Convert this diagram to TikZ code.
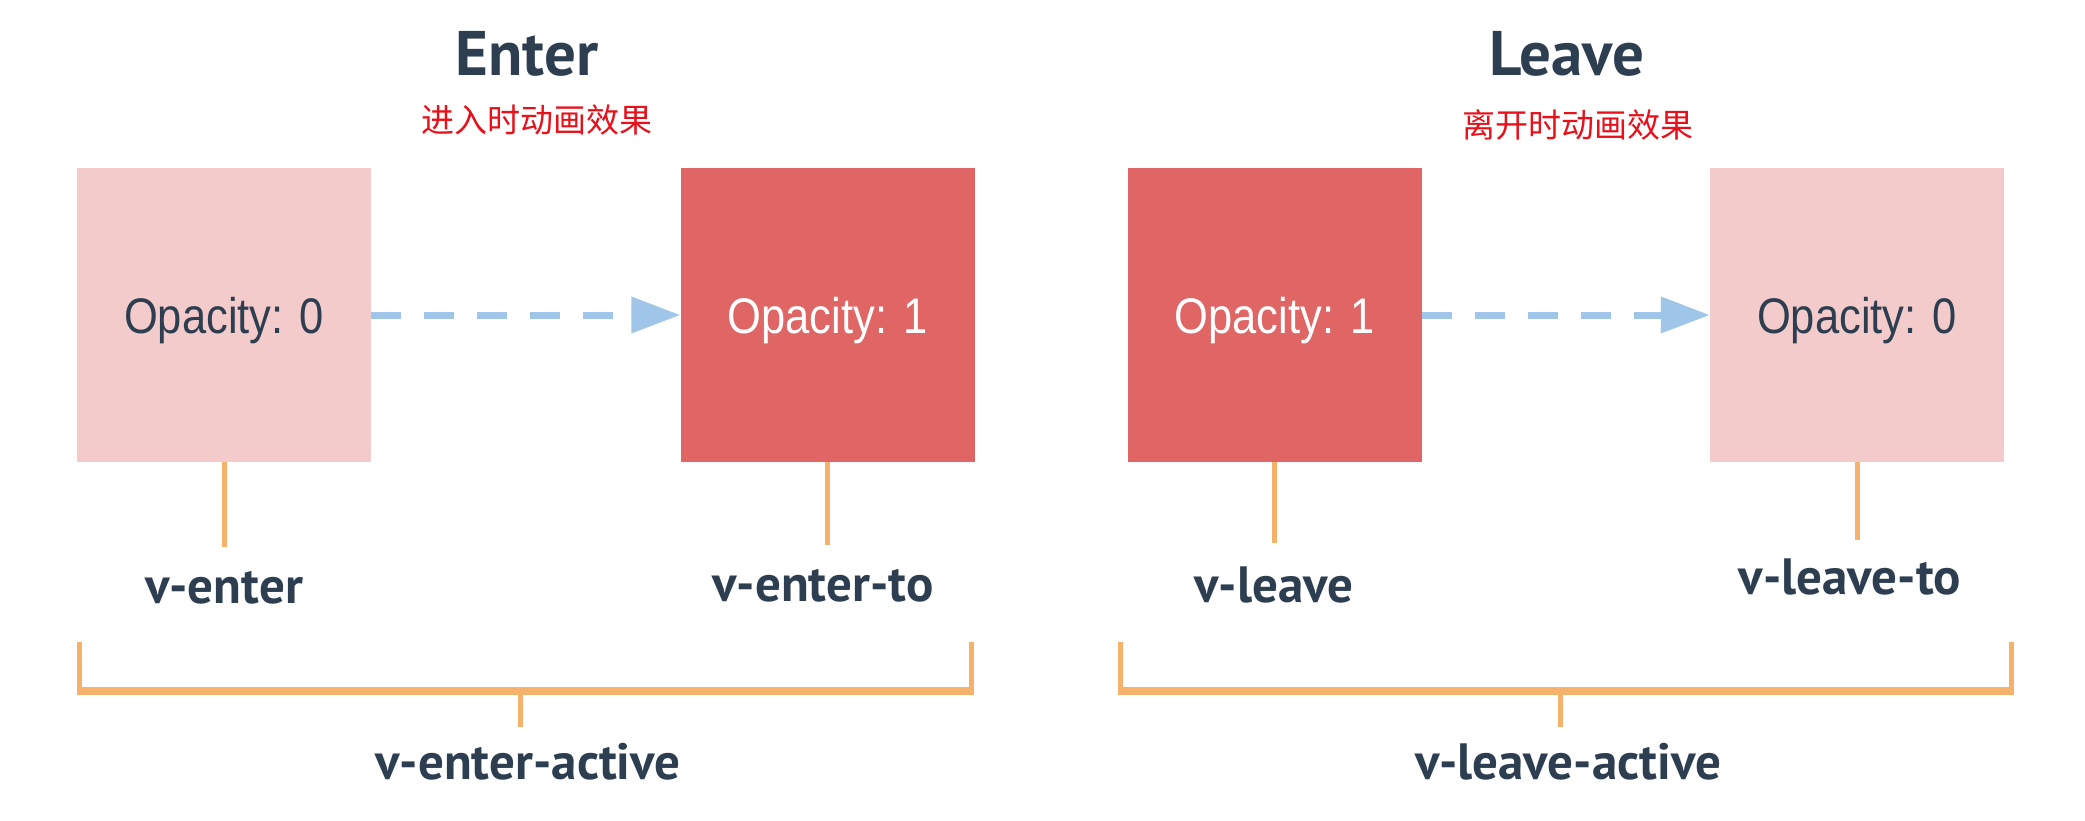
\documentclass[tikz,border=0pt]{standalone}
\usepackage{fontspec}
\setmainfont{Liberation Sans}
\newfontfamily\labfont{PT Sans}
\newfontfamily\opfont{Liberation Sans}[FakeStretch=0.87]
\newfontfamily\cjk{Noto Sans CJK SC}
\usetikzlibrary{arrows.meta}
\definecolor{lightbox}{RGB}{243,203,203}
\definecolor{redbox}{RGB}{224,102,102}
\definecolor{brk}{RGB}{246,178,107}
\definecolor{arrowblue}{RGB}{159,197,232}
\definecolor{darktext}{RGB}{44,62,80}
\definecolor{cjkred}{RGB}{232,16,26}
\begin{document}
\begin{tikzpicture}[x=1pt,y=-1pt,
  boxbase/.style={rectangle,minimum width=294pt,minimum height=294pt,inner sep=0pt,
    text depth=0pt,font=\opfont\fontsize{50}{52}\selectfont},
  lightstate/.style={boxbase,fill=lightbox,text=darktext},
  darkstate/.style={boxbase,fill=redbox,text=white},
  title/.style={anchor=base,font=\labfont\bfseries\fontsize{63}{66}\selectfont,text=darktext},
  subtitle/.style={anchor=base,font=\cjk\fontsize{33}{36}\selectfont,text=cjkred},
  lab/.style={anchor=base,font=\labfont\bfseries\fontsize{51}{54}\selectfont,text=darktext},
  tick/.style={draw=brk,line width=5pt},
  brkv/.style={draw=brk,line width=5pt},
  brkh/.style={draw=brk,line width=8pt},
  flow/.style={draw=arrowblue,line width=7pt,dash pattern=on 30pt off 23pt,
    -{Triangle[length=49pt,width=35pt,fill=arrowblue]}}
]
\useasboundingbox (0,0) rectangle (2085,821);
\fill[white] (0,0) rectangle (2085,821);

% titles
\node[title] (tEnter) at (527,76) {Enter};
\node[title] (tLeave) at (1567,76) {Leave};
\node[subtitle] (sEnter) at (537,133) {进入时动画效果};
\node[subtitle] (sLeave) at (1578,138) {离开时动画效果};

% boxes
\node[lightstate] (b1) at (224,315) {Opacity: 0};
\node[darkstate] (b2) at (827.5,315) {Opacity: 1};
\node[darkstate] (b3) at (1274.5,315) {Opacity: 1};
\node[lightstate] (b4) at (1857,315) {Opacity: 0};

% arrows
\draw[flow] (b1.east) -- (b2.west);
\draw[flow] (b3.east) -- (b4.west);

% ticks below boxes
\coordinate (e1) at (224,547);
\coordinate (e2) at (827.5,545);
\coordinate (e3) at (1274.5,543);
\coordinate (e4) at (1857,540);
\draw[tick] (b1.south) -- (e1);
\draw[tick] (b2.south) -- (e2);
\draw[tick] (b3.south) -- (e3);
\draw[tick] (b4.south) -- (e4);

% labels
\node[lab] (l1) at (224,603) {v-enter};
\node[lab] (l2) at (823,601) {v-enter-to};
\node[lab] (l3) at (1274,602) {v-leave};
\node[lab] (l4) at (1850,594) {v-leave-to};

% brackets
\coordinate (aL) at (79,642);
\coordinate (aLb) at (79,691);
\coordinate (aRb) at (971,691);
\coordinate (aR) at (971,642);
\coordinate (aM) at (520,691);
\coordinate (aMe) at (520,727);
\draw[brkv] (aL) -- (aLb);
\draw[brkv] (aR) -- (aRb);
\draw[brkh] ([xshift=-2.5pt]aLb) -- ([xshift=2.5pt]aRb);
\draw[tick] (aM) -- (aMe);

\coordinate (bL) at (1120,642);
\coordinate (bLb) at (1120,691);
\coordinate (bRb) at (2011,691);
\coordinate (bR) at (2011,642);
\coordinate (bM) at (1560,691);
\coordinate (bMe) at (1560,727);
\draw[brkv] (bL) -- (bLb);
\draw[brkv] (bR) -- (bRb);
\draw[brkh] ([xshift=-2.5pt]bLb) -- ([xshift=2.5pt]bRb);
\draw[tick] (bM) -- (bMe);

\node[lab] (la) at (528,779) {v-enter-active};
\node[lab] (lb) at (1568,779) {v-leave-active};
\end{tikzpicture}
\end{document}
